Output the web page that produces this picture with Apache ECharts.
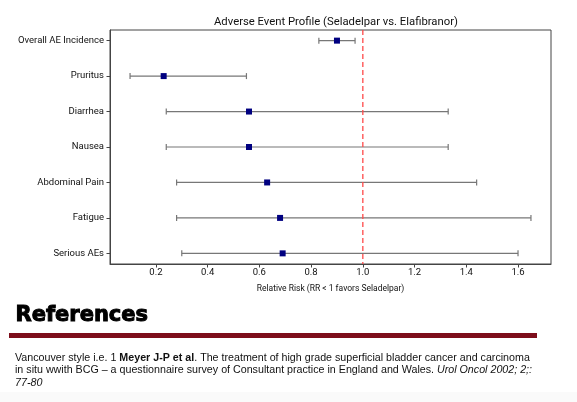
<!DOCTYPE html>
<html>
<head>
<meta charset="utf-8">
<script src="https://cdn.jsdelivr.net/npm/echarts@6/dist/echarts.min.js"></script>
<style>
html,body{margin:0;padding:0;background:#fff;}
#chart{width:577px;height:402px;}
</style>
</head>
<body>
<div id="chart"></div>
<script>
const categories = ["Overall AE Incidence","Pruritus","Diarrhea","Nausea","Abdominal Pain","Fatigue","Serious AEs"];
const riskRatio = [0.90, 0.23, 0.56, 0.56, 0.63, 0.68, 0.69];
const ciLower  = [0.83, 0.10, 0.24, 0.24, 0.28, 0.28, 0.30];
const ciUpper  = [0.97, 0.55, 1.33, 1.33, 1.44, 1.65, 1.60];
const xTicks = [0.2, 0.4, 0.6, 0.8, 1.0, 1.2, 1.4, 1.6];
const refLine = [1.0];
const titleText = "Adverse Event Profile (Seladelpar vs. Elafibranor)";
const xLabel = "Relative Risk (RR < 1 favors Seladelpar)";

const FONT = "Roboto";
const chart = echarts.init(document.getElementById('chart'), null, {renderer:'canvas'});

const xMinData = Math.min(...ciLower), xMaxData = Math.max(...ciUpper);
const pad = (xMaxData - xMinData) * 0.05;
const yIdx = categories.map((c,i)=>i);
const yMin = -0.3, yMax = categories.length - 1 + 0.3;

const option = {
  animation:false,
  backgroundColor:'#fff',
  textStyle:{fontFamily:FONT},
  title:{
    text:titleText, left:209, top:12,
    textStyle:{fontFamily:FONT, fontSize:11.3, fontWeight:'normal', color:'#111'}
  },
  grid:{left:110, top:30, width:441, height:234, show:true, borderColor:'#444', borderWidth:1, containLabel:false},
  xAxis:{
    type:'value', min:xMinData - pad, max:xMaxData + pad,
    name:xLabel, nameLocation:'middle', nameGap:20,
    nameTextStyle:{fontFamily:FONT, fontSize:8.5, color:'#111'},
    axisLine:{show:true, onZero:false, lineStyle:{color:'#444', width:1}},
    axisTick:{show:true, length:3.5, customValues:xTicks, lineStyle:{color:'#444'}},
    axisLabel:{customValues:xTicks, fontSize:9.5, color:'#111', margin:4, formatter:v=>v.toFixed(1)},
    splitLine:{show:false}
  },
  yAxis:{
    type:'value', inverse:true, min:yMin, max:yMax,
    axisLine:{show:true, onZero:false, lineStyle:{color:'#444', width:1}},
    axisTick:{show:true, length:3.5, customValues:yIdx, lineStyle:{color:'#444'}},
    axisLabel:{customValues:yIdx, fontSize:9.5, color:'#111', margin:6, formatter:v=>categories[Math.round(v)]},
    splitLine:{show:false}
  },
  series:[
    {
      type:'custom', z:2,
      data: categories.map((c,i)=>[ciLower[i], ciUpper[i], i]),
      renderItem:(params, api)=>{
        const lo = api.coord([api.value(0), api.value(2)]);
        const hi = api.coord([api.value(1), api.value(2)]);
        const h = 3;
        const st = {stroke:'#777', lineWidth:1.2};
        return {type:'group', children:[
          {type:'line', shape:{x1:lo[0], y1:lo[1], x2:hi[0], y2:hi[1]}, style:st},
          {type:'line', shape:{x1:lo[0], y1:lo[1]-h, x2:lo[0], y2:lo[1]+h}, style:st},
          {type:'line', shape:{x1:hi[0], y1:hi[1]-h, x2:hi[0], y2:hi[1]+h}, style:st}
        ]};
      }
    },
    {
      type:'scatter', z:4, symbol:'rect', symbolSize:6,
      itemStyle:{color:'#000080', opacity:1},
      data: categories.map((c,i)=>[riskRatio[i], i])
    },
    {
      type:'custom', z:5, silent:true,
      data: refLine.map(v=>[v]),
      renderItem:(params, api)=>{
        const top = api.coord([api.value(0), yMin]);
        const bot = api.coord([api.value(0), yMax]);
        return {type:'line', shape:{x1:top[0], y1:top[1], x2:bot[0], y2:bot[1]},
          style:{stroke:'#ff4a4a', lineWidth:1.3, lineDash:[5,3]}};
      }
    }
  ],
  graphic:[
    {type:'text', left:15, top:305, style:{text:'References', font:'bold 21px "DejaVu Sans"', fill:'#000', stroke:'#000', lineWidth:1}},
    {type:'rect', shape:{x:9, y:333, width:528, height:5}, style:{fill:'#7d0e1b'}},
    {type:'text', left:15, top:352.5, style:{
      text:'Vancouver style i.e. 1 {b|Meyer J-P et al}. The treatment of high grade superficial bladder cancer and carcinoma',
      font:'10.7px "Liberation Sans"', fill:'#111',
      rich:{b:{fontFamily:'Liberation Sans', fontSize:10.7, fontWeight:'bold', fill:'#111', color:'#111'}}
    }},
    {type:'text', left:15, top:365, style:{
      text:'in situ wwith BCG \u2013 a questionnaire survey of Consultant practice in England and Wales. {i|Urol Oncol 2002; 2;:}',
      font:'10.7px "Liberation Sans"', fill:'#111',
      rich:{i:{fontFamily:'Liberation Sans', fontSize:10.7, fontStyle:'italic', fill:'#111', color:'#111'}}
    }},
    {type:'text', left:15, top:377.5, style:{
      text:'{i|77-80}', font:'10.7px "Liberation Sans"', fill:'#111',
      rich:{i:{fontFamily:'Liberation Sans', fontSize:10.7, fontStyle:'italic', fill:'#111', color:'#111'}}
    }},
    {type:'rect', shape:{x:0, y:392, width:577, height:10}, style:{fill:'#fafafa'}, z:-1}
  ]
};
chart.setOption(option);
</script>
</body>
</html>
